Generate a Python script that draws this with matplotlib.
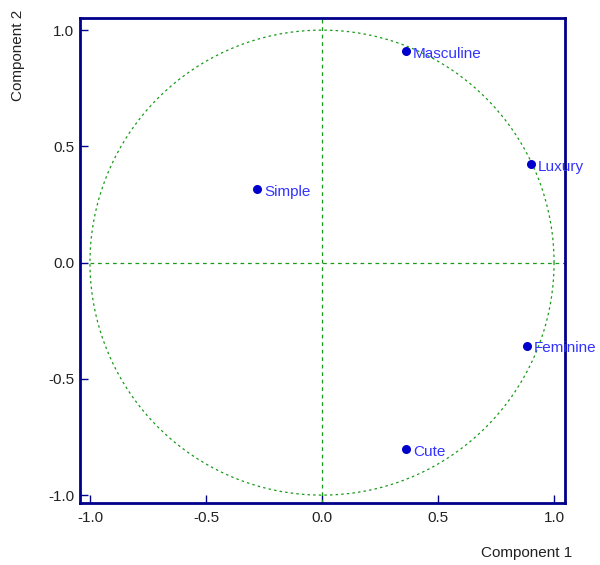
import numpy as np
import matplotlib.pyplot as plt

# loadings on the first two components
labels = ['Masculine', 'Luxury', 'Simple', 'Feminine', 'Cute']
comp1 = [0.362, 0.901, -0.280, 0.884, 0.362]
comp2 = [0.909, 0.422, 0.315, -0.358, -0.802]

ticks = [-1.0, -0.5, 0.0, 0.5, 1.0]
tick_labels = ['-1.0', '-0.5', '0.0', '0.5', '1.0']

plt.rcParams['font.family'] = ['Liberation Sans', 'DejaVu Sans']

navy = '#00008b'
green = '#1a9a1a'
fs = 11

fig = plt.figure(figsize=(6.0, 5.65), dpi=100)
ax = fig.add_axes([0.1333, 0.1097, 0.8083, 0.8584])

xlim = (-1.043, 1.047)
ylim = (-1.034, 1.052)

# unit circle and axes through the origin
theta = np.linspace(0, 2 * np.pi, 400)
ax.plot(np.cos(theta), np.sin(theta), color=green, linestyle=(0, (2, 2.5)), linewidth=0.9)
ax.plot([-1.0, xlim[1]], [0, 0], color=green, linestyle=(0, (3, 3)), linewidth=0.9)
ax.plot([0, 0], [ylim[0], ylim[1]], color=green, linestyle=(0, (3, 3)), linewidth=0.9)

ax.scatter(comp1, comp2, s=30, color='#0000cc', zorder=3)
for x, y, lab in zip(comp1, comp2, labels):
    ax.annotate(lab, (x, y), xytext=(5, -1.8), textcoords='offset points',
                va='center', ha='left', fontsize=fs, color='#3333ff')

ax.set_xlim(*xlim)
ax.set_ylim(*ylim)
ax.set_xticks(ticks)
ax.set_xticklabels(tick_labels)
ax.set_yticks(ticks)
ax.set_yticklabels(tick_labels)
ax.tick_params(direction='in', length=6, width=1, color=navy, labelsize=fs,
               labelcolor='#222222')
ax.tick_params(axis='x', pad=6)
ax.tick_params(axis='y', pad=4)
for sp in ax.spines.values():
    sp.set_color(navy)
    sp.set_linewidth(2)

fig.text(0.03, 0.902, 'Component 2', rotation=90, ha='center', va='center',
         fontsize=fs, color='#222222')
fig.text(0.953, 0.021, 'Component 1', ha='right', va='center',
         fontsize=fs, color='#222222')

fig.savefig('out.png', dpi=100)
